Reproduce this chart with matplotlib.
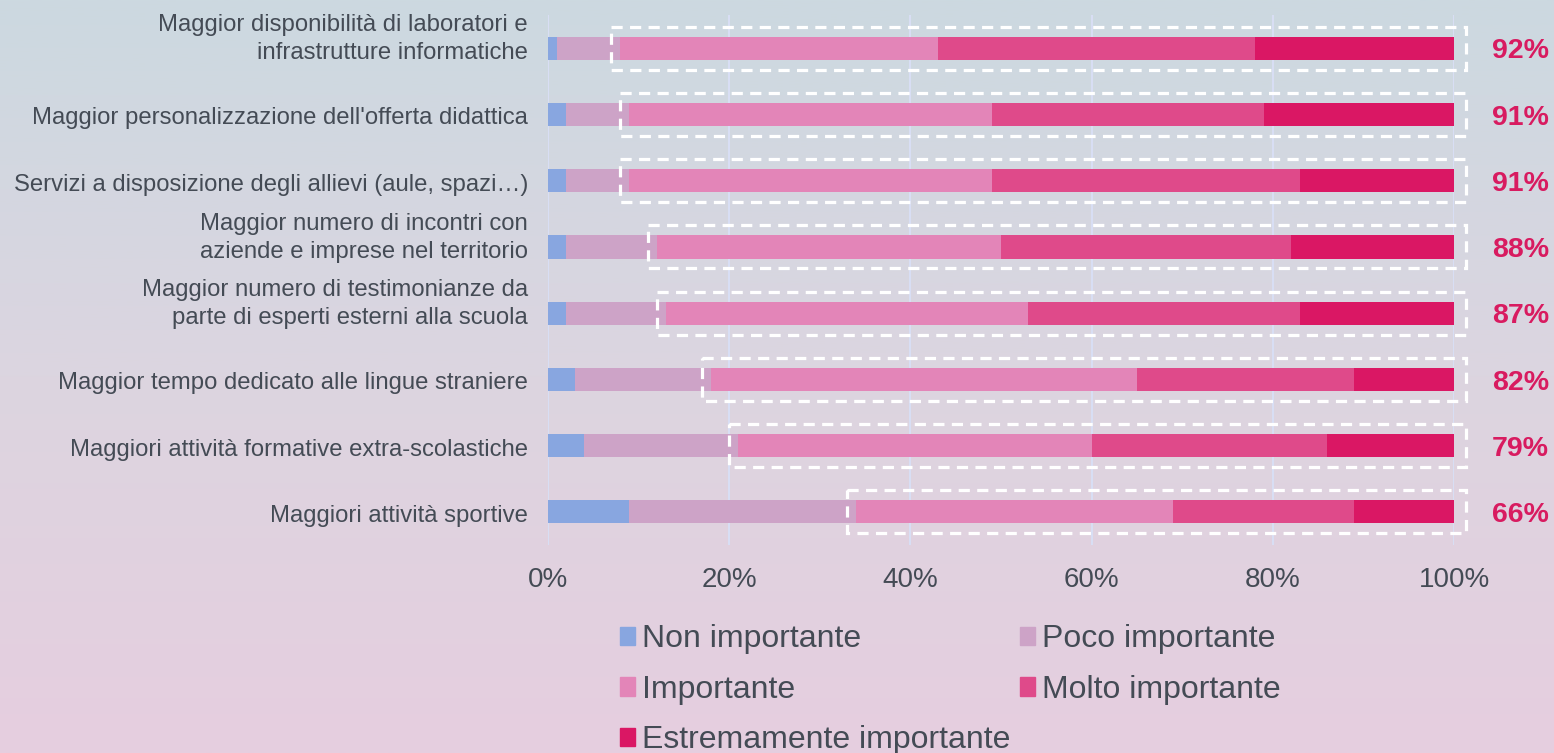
import numpy as np
import matplotlib
matplotlib.use("Agg")
import matplotlib.pyplot as plt
import matplotlib.transforms as mtransforms
from matplotlib.patches import Rectangle
from matplotlib.colors import LinearSegmentedColormap

plt.rcParams['font.family'] = ['Liberation Sans', 'DejaVu Sans']

# dati (percentuali per livello di importanza)
categorie = [
    "Maggior disponibilità di laboratori e\ninfrastrutture informatiche",
    "Maggior personalizzazione dell'offerta didattica",
    "Servizi a disposizione degli allievi (aule, spazi…)",
    "Maggior numero di incontri con\naziende e imprese nel territorio",
    "Maggior numero di testimonianze da\nparte di esperti esterni alla scuola",
    "Maggior tempo dedicato alle lingue straniere",
    "Maggiori attività formative extra-scolastiche",
    "Maggiori attività sportive",
]
non_imp = [1, 2, 2, 2, 2, 3, 4, 9]
poco_imp = [7, 7, 7, 10, 11, 15, 17, 25]
importante = [35, 40, 40, 38, 40, 47, 39, 35]
molto_imp = [35, 30, 34, 32, 30, 24, 26, 20]
estr_imp = [22, 21, 17, 18, 17, 11, 14, 11]
etichette_tot = ["92%", "91%", "91%", "88%", "87%", "82%", "79%", "66%"]

livelli = ["Non importante", "Poco importante", "Importante",
           "Molto importante", "Estremamente importante"]
colori = ["#88A6E0", "#CDA3C7", "#E385B8", "#DF4A8A", "#DA1764"]
serie = [non_imp, poco_imp, importante, molto_imp, estr_imp]

fig = plt.figure(figsize=(15.54, 7.53), dpi=100)

# sfondo sfumato
bg = fig.add_axes([0, 0, 1, 1], zorder=-10)
cmap = LinearSegmentedColormap.from_list("bg", ["#CCD9E0", "#DCD5E0", "#E6CEDF"])
bg.imshow(np.linspace(0, 1, 256).reshape(-1, 1), aspect="auto", cmap=cmap,
          extent=[0, 1, 0, 1])
bg.axis("off")

ax = fig.add_axes([0.3526, 0.2762, 0.5831, 0.7038])
ax.set_facecolor("none")

y = np.arange(len(categorie))
sinistra = np.zeros(len(categorie))
for vals, col, lab in zip(serie, colori, livelli):
    ax.barh(y, vals, left=sinistra, height=0.35, color=col, label=lab, zorder=3)
    sinistra = sinistra + np.array(vals)

# riquadri tratteggiati attorno a importante + molto + estremamente
inizio = np.array(non_imp) + np.array(poco_imp)
for i in range(len(categorie)):
    r = Rectangle((inizio[i] - 1.0, y[i] - 0.325), 101.3 - (inizio[i] - 1.0), 0.65,
                  fill=False, edgecolor="white", linewidth=2.3,
                  linestyle=(0, (3.5, 2.3)), clip_on=False, zorder=4)
    ax.add_patch(r)
    ax.text(107.3, y[i] + 0.05, etichette_tot[i], ha="center", va="center",
            fontsize=20.5, fontweight="bold", color="#D81B60", clip_on=False)

ax.set_xlim(0, 100)
ax.set_ylim(len(categorie) - 0.5, -0.5)
ax.set_xticks(np.arange(0, 101, 20))
ax.set_xticklabels([f"{v}%" for v in range(0, 101, 20)])
ax.set_yticks(y)
ax.set_yticklabels([])
ax.tick_params(axis="x", labelsize=20, colors="#444B55", length=0, pad=16)
ax.tick_params(axis="y", length=0)
ax.grid(axis="x", color="#D8DEF4", linewidth=1.5, zorder=0)
for s in ax.spines.values():
    s.set_visible(False)

# etichette delle categorie (quelle su due righe sono un po' più in alto)
base = mtransforms.blended_transform_factory(ax.transAxes, ax.transData)
for i, testo in enumerate(categorie):
    dy = 9 if "\n" in testo else -4
    tr = base + mtransforms.ScaledTranslation(-20 / 100, dy / 100, fig.dpi_scale_trans)
    ax.text(0, y[i], testo, transform=tr, ha="right", va="center", ma="right",
            fontsize=17.2, color="#444B55", linespacing=1.38)

# legenda in ordine per righe
ordine = [0, 2, 4, 1, 3]
hs = [Rectangle((0, 0), 1, 1, color=colori[k]) for k in ordine]
fig.legend(hs, [livelli[k] for k in ordine], ncol=2, loc="upper left",
           bbox_to_anchor=(0.3885, 0.192), frameon=False, fontsize=23,
           handlelength=0.47, handleheight=0.5, handletextpad=0.22,
           columnspacing=0.3, labelspacing=0.64, borderpad=0, labelcolor="#444B55")

fig.savefig("out.png", dpi=100)
